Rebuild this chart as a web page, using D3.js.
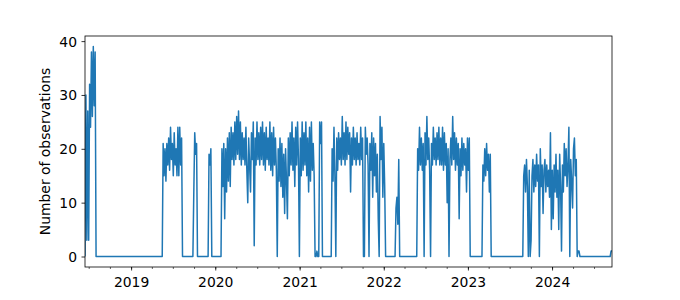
<!DOCTYPE html>
<html>
<head>
<meta charset="utf-8">
<script src="https://cdn.jsdelivr.net/npm/d3@7"></script>
<style>
  body { margin: 0; background: #fff; }
  text { font-family: "DejaVu Sans", sans-serif; }
</style>
</head>
<body>
<svg id="chart" width="680" height="300"></svg>
<script>
// observations every 4 days, grouped in active periods (zero in between)
const stepDays = 4;
const segStarts = ["2018-06-15", "2019-05-16", "2019-09-26", "2019-12-01", "2020-01-26",
                   "2021-05-18", "2022-02-19", "2022-05-24", "2023-03-03", "2023-08-27", "2024-09-09"];

const seg2018 = [0, 30, 3, 27, 3, 32, 24, 38, 26, 39, 28, 38, 0];
const seg2019a = [0, 21, 15, 20, 14, 21, 17, 22, 16, 24, 18, 21, 15, 23, 17, 20, 15, 24, 15, 24, 17, 22, 0];
const seg2019b = [0, 12, 23, 19, 21, 0];
const seg2019c = [0, 19, 17, 20, 0];
const seg2020 = [0, 20, 13, 21, 7, 20,
  12, 22, 14, 23, 13, 24, 18, 23, 17, 25, 18, 26, 19, 27, 18,
  25, 17, 23, 18, 22, 17, 24, 16, 10, 22, 17, 12, 23, 18, 25,
  2, 22, 17, 25, 18, 23, 17, 24, 18, 25, 17, 23, 16, 24, 18,
  22, 17, 25, 16, 23, 15, 24, 17, 22, 16, 0, 20, 14, 22, 13,
  21, 11, 19, 8, 20, 14, 7, 22, 15, 23, 17, 25, 16, 22, 13,
  24, 17, 25, 18, 0, 22, 15, 25, 16, 23, 17, 25, 15, 22, 12,
  24, 14, 25, 16, 21, 15, 0, 0, 1, 0, 0, 25, 21, 25, 0];
const seg2021 = [0, 20, 14, 24, 15, 0,
  22, 16, 23, 18, 22, 17, 26, 18, 23, 17, 25, 18, 24, 19, 23,
  12, 22, 17, 24, 18, 22, 17, 23, 18, 21, 17, 24, 18, 22, 0,
  0, 24, 19, 22, 17, 0, 21, 16, 23, 11, 22, 15, 21, 12, 19,
  7, 0, 26, 18, 24, 11, 21, 13, 0];
const seg2022a = [0, 9, 11, 6, 18, 0];
const seg2022b = [0, 20, 16, 24, 17, 22,
  16, 21, 0, 23, 17, 26, 18, 22, 16, 0, 21, 17, 24, 18, 22,
  17, 23, 18, 24, 17, 22, 17, 24, 16, 23, 17, 21, 10, 20, 0,
  18, 22, 17, 26, 18, 23, 16, 22, 17, 21, 7, 20, 15, 22, 16,
  21, 17, 20, 12, 22, 16, 22, 0];
const seg2023a = [0, 17, 14, 20, 15, 21, 16, 19, 12, 19, 0];
const seg2023b = [0, 15, 17, 12, 18, 13,
  0, 16, 0, 3, 15, 18, 12, 17, 13, 19, 14, 17, 0, 20, 13,
  17, 8, 16, 18, 12, 17, 13, 16, 11, 23, 5, 16, 7, 17, 12,
  19, 11, 16, 5, 19, 13, 1, 17, 12, 21, 15, 20, 13, 17, 24,
  0, 18, 14, 9, 20, 22, 15, 18, 0, 1, 1, 0];
const seg2024 = [0, 1, 1];

const yTicks = [0, 10, 20, 30, 40];

const segments = [seg2018, seg2019a, seg2019b, seg2019c, seg2020, seg2021,
                  seg2022a, seg2022b, seg2023a, seg2023b, seg2024];

const parseDate = d3.utcParse("%Y-%m-%d");
const data = [];
segments.forEach((vals, k) => {
    const start = parseDate(segStarts[k]);
    vals.forEach((v, i) => {
        data.push({ date: d3.utcDay.offset(start, i * stepDays), value: v });
    });
});

const svg = d3.select("#chart");
const m = { left: 85, right: 612, top: 36, bottom: 267 };

const x = d3.scaleUtc()
    .domain(d3.extent(data, d => d.date))
    .range([m.left, m.right]);

const ymax = d3.max(data, d => d.value);
const pad = ymax * 0.05;
const y = d3.scaleLinear()
    .domain([-pad, ymax + pad])
    .range([m.bottom, m.top]);

svg.append("clipPath").attr("id", "clip")
    .append("rect")
    .attr("x", m.left).attr("y", m.top)
    .attr("width", m.right - m.left).attr("height", m.bottom - m.top);

const line = d3.line()
    .x(d => x(d.date))
    .y(d => y(d.value));

svg.append("path")
    .datum(data)
    .attr("clip-path", "url(#clip)")
    .attr("fill", "none")
    .attr("stroke", "#1f77b4")
    .attr("stroke-width", 1.5)
    .attr("stroke-linejoin", "round")
    .attr("d", line);

// minor ticks every quarter
const xMinor = svg.append("g")
    .attr("transform", `translate(0,${m.bottom})`)
    .call(d3.axisBottom(x).ticks(d3.utcMonth.every(3)).tickSize(2).tickFormat(""));
xMinor.select(".domain").remove();
xMinor.selectAll("line").attr("stroke-width", 0.6);

const xAxis = svg.append("g")
    .attr("transform", `translate(0,${m.bottom})`)
    .call(d3.axisBottom(x).ticks(d3.utcYear.every(1)).tickFormat(d3.utcFormat("%Y"))
        .tickSize(3.5).tickPadding(7));
xAxis.select(".domain").remove();
xAxis.selectAll("line").attr("stroke-width", 0.8);
xAxis.selectAll("text").attr("font-size", "13.9px").attr("fill", "#000")
    .style("font-family", "'DejaVu Sans', sans-serif");

const yAxis = svg.append("g")
    .attr("transform", `translate(${m.left},0)`)
    .call(d3.axisLeft(y).tickValues(yTicks).tickSize(3.5).tickPadding(4.5));
yAxis.select(".domain").remove();
yAxis.selectAll("line").attr("stroke-width", 0.8);
yAxis.selectAll("text").attr("font-size", "13.9px").attr("fill", "#000").attr("dy", "0.36em")
    .style("font-family", "'DejaVu Sans', sans-serif");

svg.append("rect")
    .attr("x", m.left).attr("y", m.top)
    .attr("width", m.right - m.left).attr("height", m.bottom - m.top)
    .attr("fill", "none")
    .attr("stroke", "#000")
    .attr("stroke-width", 0.8);

svg.append("text")
    .attr("transform", `translate(50,${(m.top + m.bottom) / 2}) rotate(-90)`)
    .attr("text-anchor", "middle")
    .attr("font-size", "13.9px")
    .text("Number of observations");
</script>
</body>
</html>
